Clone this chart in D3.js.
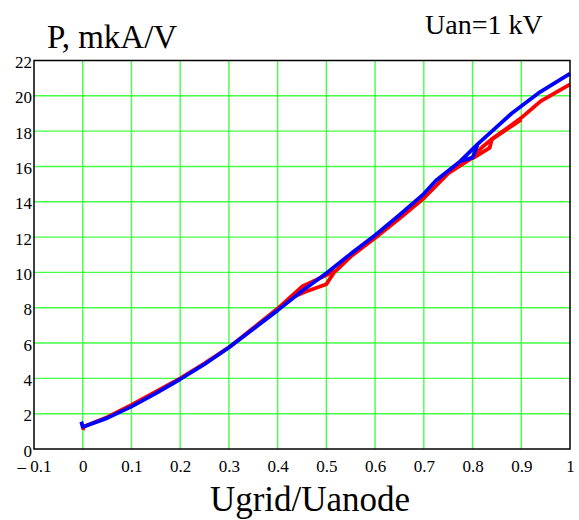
<!DOCTYPE html>
<html>
<head>
<meta charset="utf-8">
<script src="https://cdn.jsdelivr.net/npm/d3@7.9.0/dist/d3.min.js"></script>
<style>
  body { margin: 0; background: #fff; }
  svg { display: block; }
</style>
</head>
<body>
<svg id="chart" width="579" height="520"></svg>
<script>
const serif = '"Liberation Serif", "Times New Roman", serif';

// x ticks and y ticks
const xTicks = [-0.1, 0, 0.1, 0.2, 0.3, 0.4, 0.5, 0.6, 0.7, 0.8, 0.9, 1];
const yTicks = [0, 2, 4, 6, 8, 10, 12, 14, 16, 18, 20, 22];

// red curve (main sweep) [Ugrid/Uanode, P]
const redMain = [
  [0.0, 1.08], [0.003, 1.28], [0.05, 1.8], [0.1, 2.5], [0.15, 3.25], [0.2, 4.0],
  [0.25, 4.85], [0.3, 5.75], [0.35, 6.85], [0.4, 7.95], [0.45, 9.2], [0.52, 10.1],
  [0.55, 10.9], [0.6, 11.95], [0.65, 13.05], [0.7, 14.2], [0.75, 15.6], [0.8, 16.5],
  [0.82, 17.1], [0.84, 17.55], [0.9, 18.75], [0.94, 19.7], [1.0, 20.65]
];
// red return branches (small loops)
const redLoopA = [[0.43, 8.6], [0.457, 8.9], [0.5, 9.33], [0.518, 10.1]];
const redLoopB = [[0.8, 16.45], [0.835, 17.05], [0.84, 17.55], [0.9, 18.65]];

// blue curve
const blueMain = [
  [-0.003, 1.55], [0.0, 1.25], [0.05, 1.75], [0.1, 2.4], [0.15, 3.15], [0.2, 3.95],
  [0.25, 4.8], [0.3, 5.75], [0.35, 6.8], [0.4, 7.85], [0.45, 8.95], [0.5, 9.95],
  [0.55, 11.05], [0.6, 12.1], [0.65, 13.25], [0.7, 14.45], [0.725, 15.2], [0.775, 16.3],
  [0.81, 17.25], [0.84, 18.0], [0.88, 19.0], [0.935, 20.15], [1.0, 21.25]
];
const blueLoop = [[0.775, 16.3], [0.8, 16.5], [0.81, 17.2]];

const svg = d3.select('#chart');
const x = d3.scaleLinear().domain([-0.1, 1]).range([34, 570]);
const y = d3.scaleLinear().domain([0, 22]).range([449, 60.5]);

// grid
svg.append('g')
  .selectAll('line')
  .data(xTicks.slice(1, -1))
  .join('line')
  .attr('x1', d => x(d)).attr('x2', d => x(d))
  .attr('y1', y(22)).attr('y2', y(0))
  .attr('stroke', '#44ff44').attr('stroke-width', 1.4);

svg.append('g')
  .selectAll('line')
  .data(yTicks.slice(1, -1))
  .join('line')
  .attr('x1', x(-0.1)).attr('x2', x(1))
  .attr('y1', d => y(d)).attr('y2', d => y(d))
  .attr('stroke', '#44ff44').attr('stroke-width', 1.4);

// axes labels
let xAxis = svg.append('g')
  .attr('transform', `translate(0,${y(0)})`)
  .call(d3.axisBottom(x).tickValues(xTicks).tickSize(0).tickPadding(11)
    .tickFormat(d => d < 0 ? '\u2013 ' + Math.abs(d) : String(d)));
xAxis.select('.domain').remove();
xAxis.selectAll('text')
  .style('font-family', serif).style('font-size', '17px').attr('fill', '#000');

let yAxis = svg.append('g')
  .attr('transform', `translate(${x(-0.1) - 2},0)`)
  .call(d3.axisLeft(y).tickValues(yTicks).tickSize(0).tickPadding(0));
yAxis.select('.domain').remove();
yAxis.selectAll('text')
  .style('font-family', serif).style('font-size', '17px').attr('fill', '#000')
  .attr('dy', '0.42em');

// curves
const line = d3.line().x(d => x(d[0])).y(d => y(d[1]));
const curves = [
  { data: redLoopA, color: '#ff0000' },
  { data: redLoopB, color: '#ff0000' },
  { data: redMain, color: '#ff0000' },
  { data: blueLoop, color: '#0000ff' },
  { data: blueMain, color: '#0000ff' }
];
curves.forEach(c => {
  svg.append('path')
    .attr('d', line(c.data))
    .attr('fill', 'none')
    .attr('stroke', c.color)
    .attr('stroke-width', 3.8)
    .attr('stroke-linejoin', 'round');
});

// frame
svg.append('rect')
  .attr('x', x(-0.1)).attr('y', y(22))
  .attr('width', x(1) - x(-0.1)).attr('height', y(0) - y(22))
  .attr('fill', 'none').attr('stroke', '#000').attr('stroke-width', 1.5);

// titles
svg.append('text').attr('x', 47).attr('y', 48)
  .style('font-family', serif).style('font-size', '33px').text('P, mkA/V');
svg.append('text').attr('x', 425).attr('y', 34)
  .style('font-family', serif).style('font-size', '28px').text('Uan=1 kV');
svg.append('text').attr('x', 310).attr('y', 511).attr('text-anchor', 'middle')
  .style('font-family', serif).style('font-size', '35px').text('Ugrid/Uanode');
</script>
</body>
</html>
